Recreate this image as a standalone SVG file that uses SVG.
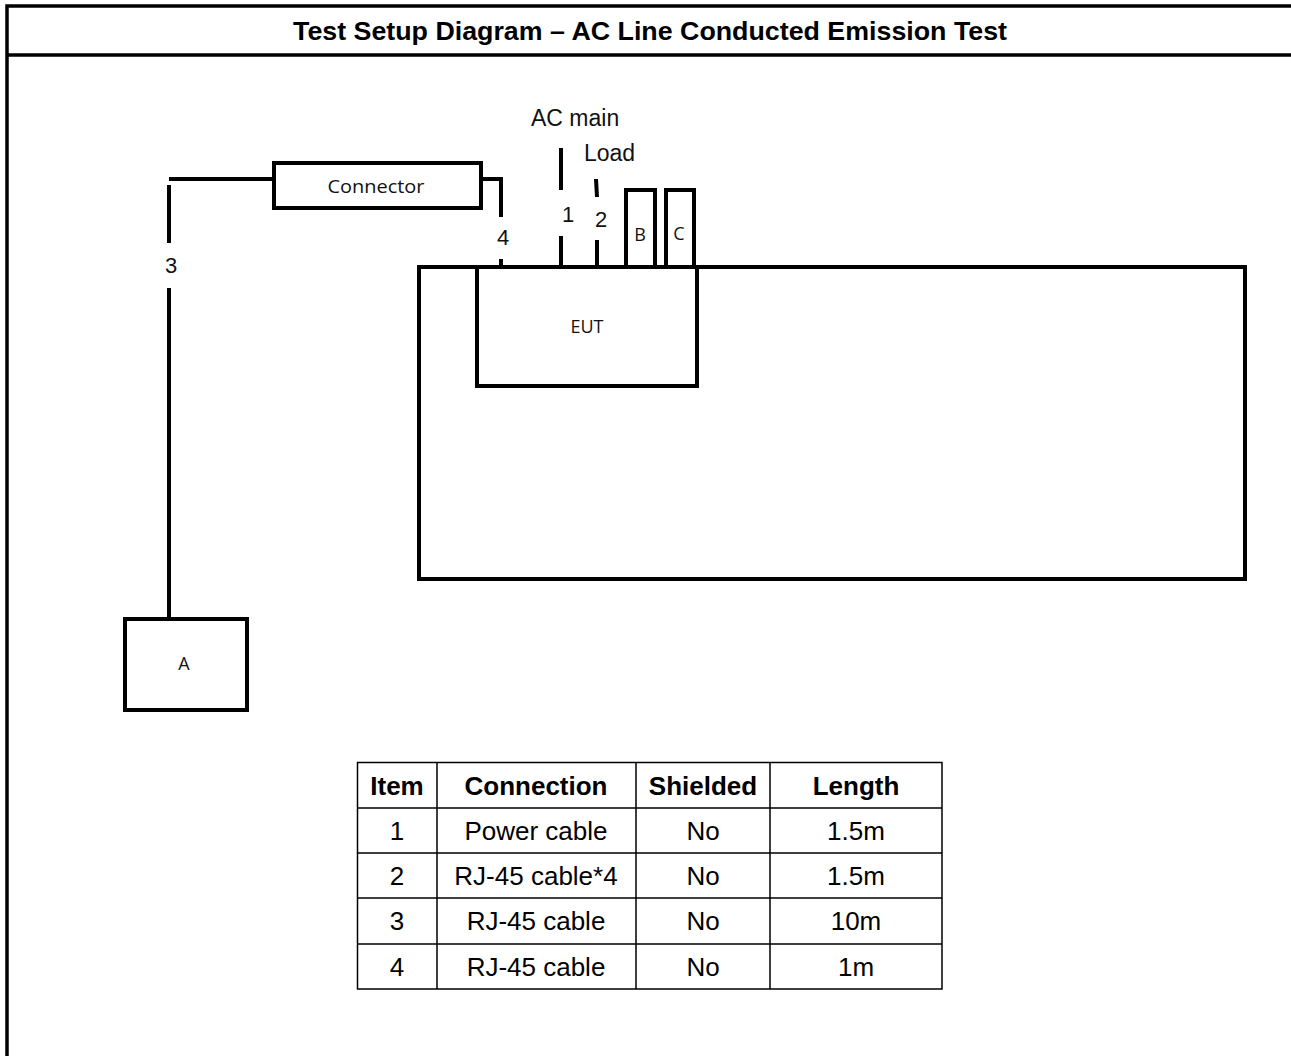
<svg xmlns="http://www.w3.org/2000/svg" width="1291" height="1056" viewBox="0 0 1291 1056">
<style>
.frame{fill:none;stroke:#000;stroke-width:3.5}
.box{fill:#fff;stroke:#000;stroke-width:4}
.cable{fill:none;stroke:#000;stroke-width:4}
.grid{fill:none;stroke:#000;stroke-width:1.5}
.title{font-family:"Liberation Sans",Arial,sans-serif;font-weight:bold;font-size:25px;text-anchor:middle}
.lbl{font-family:"Liberation Sans",Arial,sans-serif;font-size:22px;fill:#111}
.big{font-size:23px}
.nm{font-family:"Open Sans","Liberation Sans",sans-serif;font-size:18px;text-anchor:middle;fill:#111}
.th{font-family:"Liberation Sans",Arial,sans-serif;font-weight:bold;font-size:26px;text-anchor:middle}
.td{font-family:"Liberation Sans",Arial,sans-serif;font-size:26px;text-anchor:middle}
</style>
<rect width="1291" height="1056" fill="#fff"/>
<g id="frame">
<path class="frame" d="M7,1056 V6 H1291 M7,55 H1291"/>
<text class="title" x="650" y="40" textLength="714" lengthAdjust="spacingAndGlyphs">Test Setup Diagram – AC Line Conducted Emission Test</text>
</g>
<g id="connectors">
<path class="cable" d="M169,179 H274"/>
<path class="cable" d="M169,185 V243 M169,288 V619"/>
<text class="lbl" x="165" y="273">3</text>
<path class="cable" d="M481,179 H503 M501,179 V217 M501,259 V267"/>
<text class="lbl" x="497" y="245">4</text>
<path class="cable" d="M561,148 V190 M561,236 V267"/>
<text class="lbl" x="562" y="222">1</text>
<path class="cable" d="M596,179 L597,197 M597,240 V267"/>
<text class="lbl" x="595" y="227">2</text>
<text class="lbl big" x="531" y="126">AC main</text>
<text class="lbl big" x="584" y="161">Load</text>
</g>
<g id="table-surface">
<rect class="box" x="419" y="267" width="826" height="312"/>
</g>
<g id="eut">
<rect class="box" x="477" y="267" width="220" height="119"/>
<text class="nm" x="587" y="333">EUT</text>
</g>
<g id="b">
<rect class="box" x="626" y="190" width="29" height="77"/>
<text class="nm" x="640" y="241">B</text>
</g>
<g id="c">
<rect class="box" x="666" y="190" width="28" height="77"/>
<text class="nm" x="679" y="240">C</text>
</g>
<g id="connector">
<rect class="box" x="274" y="163" width="207" height="45"/>
<text class="nm" x="376" y="193" textLength="97" lengthAdjust="spacingAndGlyphs">Connector</text>
</g>
<g id="a">
<rect class="box" x="125" y="619" width="122" height="91"/>
<text class="nm" x="184" y="670">A</text>
</g>
<g id="legend">
<path class="grid" d="M357.5,762.5 H942 V989 H357.5 Z M357.5,808 H942 M357.5,853 H942 M357.5,898 H942 M357.5,944 H942 M437,762.5 V989 M636,762.5 V989 M770,762.5 V989"/>
<text class="th" x="397" y="795">Item</text>
<text class="th" x="536" y="795">Connection</text>
<text class="th" x="703" y="795">Shielded</text>
<text class="th" x="856" y="795">Length</text>
<text class="td" x="397" y="840">1</text>
<text class="td" x="536" y="840">Power cable</text>
<text class="td" x="703" y="840">No</text>
<text class="td" x="856" y="840">1.5m</text>
<text class="td" x="397" y="885">2</text>
<text class="td" x="536" y="885">RJ-45 cable*4</text>
<text class="td" x="703" y="885">No</text>
<text class="td" x="856" y="885">1.5m</text>
<text class="td" x="397" y="930">3</text>
<text class="td" x="536" y="930">RJ-45 cable</text>
<text class="td" x="703" y="930">No</text>
<text class="td" x="856" y="930">10m</text>
<text class="td" x="397" y="976">4</text>
<text class="td" x="536" y="976">RJ-45 cable</text>
<text class="td" x="703" y="976">No</text>
<text class="td" x="856" y="976">1m</text>
</g>
</svg>
